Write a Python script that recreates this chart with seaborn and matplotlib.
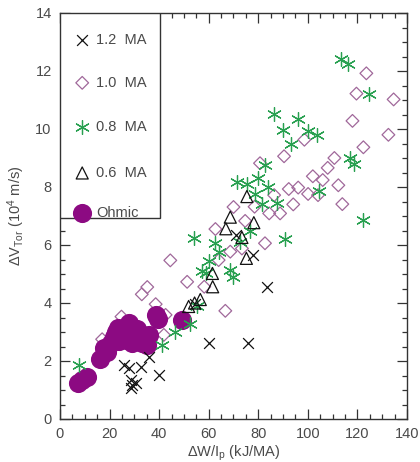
import matplotlib
matplotlib.use("Agg")
import matplotlib.pyplot as plt
from matplotlib.patches import Rectangle
from matplotlib.ticker import MultipleLocator
import seaborn as sns

# ---- data ----
x_12 = [25.8, 27.8, 32.5, 35.9, 39.9, 28.5, 29.2, 28.5, 30.5, 60.2, 75.9, 83.4, 71.0, 77.7, 54.6]
y_12 = [1.86, 1.75, 1.80, 2.15, 1.52, 1.34, 1.17, 1.06, 1.23, 2.62, 2.62, 4.55, 6.34, 5.66, 3.95]

x_10 = [123.6, 119.6, 134.6, 118.0, 132.5, 122.4, 110.7, 108.0, 106.0, 102.0, 112.3, 113.9, 104.1,
        100.1, 96.1, 92.3, 94.1, 88.8, 86.4, 90.4, 98.6, 84.4, 78.5, 70.0, 74.7, 62.7, 82.7, 68.7,
        73.4, 64.0, 51.3, 58.2, 66.7, 80.7, 44.5, 35.2, 33.0, 38.6, 42.6, 24.8, 17.0, 41.9]
y_10 = [11.92, 11.22, 11.02, 10.28, 9.80, 9.37, 9.00, 8.66, 8.24, 8.37, 8.06, 7.41, 7.72,
        7.76, 7.98, 7.93, 7.40, 7.09, 7.72, 9.06, 9.63, 7.09, 7.32, 7.31, 6.83, 6.55, 6.06, 5.77,
        5.88, 5.48, 4.73, 4.56, 3.73, 8.82, 5.47, 4.55, 4.30, 3.96, 3.59, 3.53, 2.75, 2.90]

x_08 = [113.2, 116.2, 124.8, 86.3, 96.0, 89.8, 99.9, 103.6, 93.4, 117.0, 118.7, 104.5, 122.1, 90.9,
        82.7, 71.3, 75.4, 80.0, 84.1, 78.7, 81.4, 87.4, 76.6, 72.7, 53.9, 62.7, 64.0, 60.0, 57.3,
        59.0, 68.7, 70.0, 55.3, 52.6, 46.2, 41.2, 7.8]
y_08 = [12.42, 12.24, 11.20, 10.53, 10.33, 9.97, 9.94, 9.79, 9.50, 8.99, 8.78, 7.86, 6.86, 6.20,
        8.76, 8.16, 8.12, 8.30, 8.01, 7.76, 7.43, 7.45, 6.50, 6.11, 6.24, 6.06, 5.77, 5.45, 5.12,
        5.05, 5.14, 4.91, 3.90, 3.28, 3.01, 2.55, 1.86]

x_06 = [51.9, 54.3, 56.6, 61.6, 61.5, 66.9, 68.7, 73.4, 75.2, 75.4, 78.2]
y_06 = [3.88, 4.00, 4.12, 4.56, 5.02, 6.56, 6.96, 6.26, 5.54, 7.67, 6.77]

x_oh = [7.3, 10.7, 9.0, 16.0, 17.8, 20.5, 23.5, 27.8, 29.2, 31.2, 33.2, 35.8, 38.9, 39.6, 49.3,
        25.8, 29.2, 21.8, 27.2, 24.0, 19.0, 33.5, 31.0, 22.5, 35.0]
y_oh = [1.25, 1.46, 1.36, 2.06, 2.44, 2.61, 3.15, 3.30, 2.95, 2.68, 2.61, 2.90, 3.60, 3.45, 3.42,
        2.84, 2.61, 2.84, 2.72, 2.70, 2.30, 2.90, 3.10, 3.00, 2.55]

labels = ["1.2  MA", "1.0  MA", "0.8  MA", "0.6  MA", "Ohmic"]

# ---- style ----
sns.set_style("ticks")
plt.rcParams["font.family"] = ["Liberation Sans", "DejaVu Sans"]
plt.rcParams["mathtext.fontset"] = "custom"
plt.rcParams["mathtext.rm"] = "Liberation Sans"
plt.rcParams["mathtext.it"] = "Liberation Sans"
TXT = "#4a4a4a"
SP = "#333333"

C_OH = "#8c0a82"
C_DIA = "#a0689a"
C_AST = "#28a050"
C_BLK = "#111111"
AST = (6, 2, 0)

fig = plt.figure(figsize=(4.2, 4.62), dpi=100)
ax = fig.add_axes([60 / 420, 1 - 419 / 462, 347 / 420, 406 / 462])

sns.scatterplot(x=x_10, y=y_10, ax=ax, marker="D", s=42, facecolor="none",
                edgecolor=C_DIA, linewidth=0.9, zorder=2, legend=False)
sns.scatterplot(x=x_oh, y=y_oh, ax=ax, marker="o", s=190, color=C_OH,
                edgecolor=C_OH, linewidth=0, zorder=3, legend=False)
sns.scatterplot(x=x_12, y=y_12, ax=ax, marker="x", s=60, color=C_BLK,
                linewidth=0.9, zorder=4, legend=False)
sns.scatterplot(x=x_08, y=y_08, ax=ax, marker=AST, s=100, color=C_AST,
                edgecolor=C_AST, linewidth=0.9, zorder=4, legend=False)
sns.scatterplot(x=x_06, y=y_06, ax=ax, marker="^", s=75, facecolor="none",
                edgecolor=C_BLK, linewidth=0.9, zorder=5, legend=False)

ax.set_xlim(0, 140)
ax.set_ylim(0, 14)
ax.xaxis.set_major_locator(MultipleLocator(20))
ax.xaxis.set_minor_locator(MultipleLocator(5))
ax.yaxis.set_major_locator(MultipleLocator(2))
ax.yaxis.set_minor_locator(MultipleLocator(0.5))
ax.tick_params(which="both", direction="in", top=True, right=True, colors=SP,
               labelcolor=TXT, labelsize=10.5, width=0.9)
ax.tick_params(which="major", length=7, pad=6)
ax.tick_params(which="minor", length=3.5)
for s in ax.spines.values():
    s.set_color(SP)
    s.set_linewidth(1.0)

ax.set_xlabel(r"$\Delta$W/I$_{\rm p}$ (kJ/MA)", color=TXT, fontsize=10.5, labelpad=2)
ax.set_ylabel(r"$\Delta$V$_{\rm Tor}$ (10$^{4}$ m/s)", color=TXT, fontsize=10.5, labelpad=6)

# ---- legend box (manual, as in the reference) ----
ax.add_patch(Rectangle((0, 0.495), 0.288, 0.505, transform=ax.transAxes,
                       facecolor="white", edgecolor=SP, linewidth=1.0, zorder=6))
ys = [0.933, 0.828, 0.719, 0.606, 0.507]
styles = [
    dict(marker="x", color=C_BLK, s=60, linewidth=0.9),
    dict(marker="D", facecolor="none", edgecolor=C_DIA, s=42, linewidth=0.9),
    dict(marker=AST, color=C_AST, s=100, linewidth=0.9),
    dict(marker="^", facecolor="none", edgecolor=C_BLK, s=75, linewidth=0.9),
    dict(marker="o", color=C_OH, s=190, linewidth=0),
]
for yy, lab, st in zip(ys, labels, styles):
    ax.scatter([0.064], [yy], transform=ax.transAxes, zorder=7, clip_on=False, **st)
    ax.text(0.104, yy, lab, transform=ax.transAxes, va="center", ha="left",
            fontsize=10.5, color=TXT, zorder=7)

fig.savefig("out.png", dpi=100)
